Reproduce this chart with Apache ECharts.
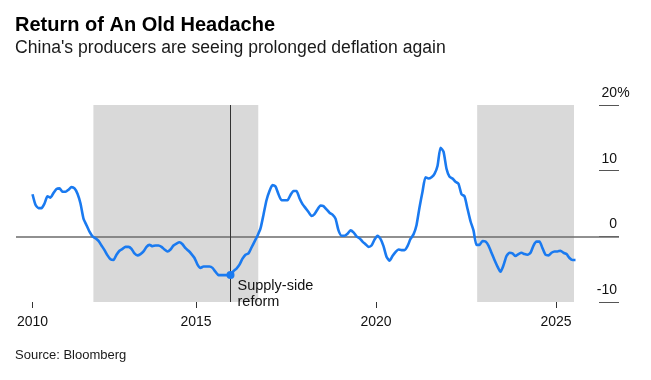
<!DOCTYPE html>
<html>
<head>
<meta charset="utf-8">
<script src="https://cdn.jsdelivr.net/npm/echarts@6/dist/echarts.min.js"></script>
<style>
html,body{margin:0;padding:0;background:#fff;}
#chart{width:651px;height:380px;}
</style>
</head>
<body>
<div id="chart"></div>
<script>
// China PPI, year-over-year %, monthly, starting June 2010
const firstYear = 2010;
const firstMonth = 6;
const ppiValues = [
  6.4, 4.8, 4.3, 4.3, 5.0, 6.1, 5.9,
  6.6, 7.2, 7.3, 6.8, 6.8, 7.1, 7.5, 7.3, 6.5, 5.0, 2.7, 1.7,
  0.7, 0.0, -0.3, -0.7, -1.4, -2.1, -2.9, -3.5, -3.6, -2.8, -2.2, -1.9,
  -1.6, -1.6, -1.9, -2.6, -2.9, -2.7, -2.3, -1.6, -1.3, -1.5, -1.4, -1.4,
  -1.6, -2.0, -2.3, -2.0, -1.4, -1.1, -0.9, -1.2, -1.8, -2.2, -2.7, -3.3,
  -4.3, -4.8, -4.6, -4.6, -4.6, -4.8, -5.4, -5.9, -5.9, -5.9, -5.9, -5.9,
  -5.3, -4.9, -4.3, -3.4, -2.8, -2.6, -1.7, -0.8, 0.1, 1.2, 3.3, 5.5,
  6.9, 7.8, 7.6, 6.4, 5.5, 5.5, 5.5, 6.3, 6.9, 6.9, 5.8, 4.9,
  4.3, 3.7, 3.1, 3.4, 4.1, 4.7, 4.6, 4.1, 3.6, 3.3, 2.7, 0.9,
  0.1, 0.1, 0.4, 0.9, 0.6, 0.0, -0.3, -0.8, -1.2, -1.6, -1.4, -0.5,
  0.1, -0.4, -1.5, -3.1, -3.7, -3.0, -2.4, -2.0, -2.1, -2.1, -1.5, -0.4,
  0.3, 1.7, 4.4, 6.8, 9.0, 8.8, 9.0, 9.5, 10.7, 13.5, 12.9, 10.3,
  9.1, 8.8, 8.3, 8.0, 6.4, 6.1, 4.2, 2.3, 0.9, -1.3, -1.3, -0.7,
  -0.8, -1.4, -2.5, -3.6, -4.6, -5.4, -4.4, -3.0, -2.5, -2.6, -3.0, -2.7,
  -2.5, -2.7, -2.8, -2.5, -1.4, -0.8, -0.8, -1.8, -2.8, -2.9, -2.5, -2.3,
  -2.3, -2.2, -2.5, -2.7, -3.3, -3.6, -3.6
];
// Deflation periods shaded (decimal years)
const shadeStarts = [2012.15, 2022.81];
const shadeEnds = [2016.73, 2025.5];
const xTickYears = [2010, 2015, 2020, 2025];
const yTicks = [-10, 0, 10, 20];
const annotationMonth = '2015-12';
const annotationText = 'Supply-side\nreform';
const titleText = 'Return of An Old Headache';
const subtitleText = "China's producers are seeing prolonged deflation again";
const sourceText = 'Source: Bloomberg';

function monthToX(y, m) { return y + (m - 0.5) / 12; }
const seriesData = ppiValues.map((v, i) => {
  const mIdx = firstMonth - 1 + i;
  const y = firstYear + Math.floor(mIdx / 12);
  const m = (mIdx % 12) + 1;
  return [monthToX(y, m), v];
});
const firstX = seriesData[0][0];
const tickPositions = xTickYears.map(y => (y === firstYear ? firstX : y));
const annParts = annotationMonth.split('-').map(Number);
const annX = monthToX(annParts[0], annParts[1]);
const annPoint = seriesData.find(d => Math.abs(d[0] - annX) < 1e-6);

const FONT = "'Liberation Sans', Arial, sans-serif";
const chart = echarts.init(document.getElementById('chart'), null, {renderer: 'canvas'});
chart.setOption({
  animation: false,
  backgroundColor: '#ffffff',
  title: [
    {text: titleText, left: 10, top: 10, textStyle: {fontFamily: FONT, fontWeight: 'bold', fontSize: 20, color: '#000'}},
    {text: subtitleText, left: 10, top: 34, textStyle: {fontFamily: FONT, fontWeight: 'normal', fontSize: 17.6, color: '#1a1a1a'}},
    {text: sourceText, left: 10, top: 344, textStyle: {fontFamily: FONT, fontWeight: 'normal', fontSize: 13, color: '#1a1a1a'}}
  ],
  grid: [
    {left: 16, right: 32, top: 105, bottom: 78},
    {left: 599, width: 20, top: 105, bottom: 78}
  ],
  xAxis: [
    {
      type: 'value', gridIndex: 0, min: 2010, max: 2026.75,
      axisLine: {show: false, onZero: false}, splitLine: {show: false},
      axisTick: {show: true, length: 6, lineStyle: {color: '#333', width: 1}, customValues: tickPositions},
      axisLabel: {customValues: tickPositions, formatter: v => String(Math.floor(v + 1e-6)), fontFamily: FONT, fontSize: 14, color: '#111', margin: 13}
    },
    {type: 'value', gridIndex: 1, min: 0, max: 1, show: false}
  ],
  yAxis: [
    {type: 'value', gridIndex: 0, min: -10, max: 20, interval: 10, show: false},
    {
      type: 'value', gridIndex: 1, position: 'right', min: -10, max: 20, interval: 10,
      axisLine: {show: false}, axisTick: {show: false},
      splitLine: {show: true, lineStyle: {color: '#555', width: 1}},
      axisLabel: {
        inside: true, margin: -11, verticalAlign: 'bottom', padding: [0, 0, 5, 0],
        fontFamily: FONT, fontSize: 14, color: '#111',
        formatter: v => (v === 20 ? '{n|20}{p|%}' : '{n|' + v + '}{p|}'),
        rich: {
          n: {fontFamily: FONT, fontSize: 14, color: '#111'},
          p: {fontFamily: FONT, fontSize: 14, color: '#111', width: 13, align: 'left'}
        }
      }
    }
  ],
  series: [
    {
      type: 'line', xAxisIndex: 0, yAxisIndex: 0,
      data: seriesData, showSymbol: false, smooth: 0.2,
      lineStyle: {color: '#1a7af0', width: 2.6},
      itemStyle: {color: '#1a7af0'},
      z: 5,
      markArea: {
        silent: true,
        itemStyle: {color: '#d9d9d9', opacity: 1},
        data: shadeStarts.map((s, i) => [{xAxis: s}, {xAxis: shadeEnds[i]}])
      },
      markLine: {
        silent: true, symbol: 'none', label: {show: false},
        data: [
          {yAxis: 0, lineStyle: {color: '#6b6b6b', width: 1.5, type: 'solid'}},
          {xAxis: annX, lineStyle: {color: '#333', width: 1, type: 'solid'}}
        ]
      },
      markPoint: {
        silent: true,
        symbol: 'circle', symbolSize: 8,
        itemStyle: {color: '#1a7af0'},
        label: {
          show: true, position: [11, 7], align: 'left', verticalAlign: 'top',
          formatter: annotationText, fontFamily: FONT, fontSize: 14.5, lineHeight: 16, color: '#111'
        },
        data: [{coord: annPoint}]
      }
    }
  ]
});
</script>
</body>
</html>
